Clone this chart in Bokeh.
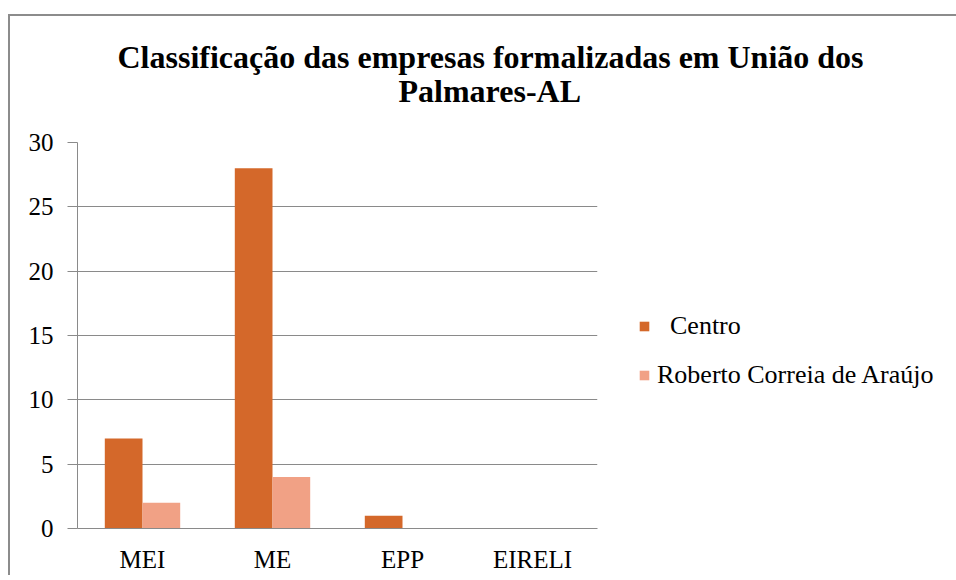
from bokeh.plotting import figure
from bokeh.models import ColumnDataSource, FactorRange, Legend, LegendItem, Title, Range1d
from bokeh.transform import dodge
from bokeh.embed import file_html
from bokeh.resources import INLINE

categories = ["MEI", "ME", "EPP", "EIRELI"]
centro = [7, 28, 1, 0]
roberto = [2, 4, 0, 0]
series_names = ["Centro", "Roberto Correia de Araújo"]
title_lines = ["Classificação das empresas formalizadas em União dos", "Palmares-AL"]
y_ticks = [0, 5, 10, 15, 20, 25, 30]

FONT = "'Liberation Serif'"
GRAY = "#8a8a8a"

source = ColumnDataSource(data=dict(cat=categories, centro=centro, roberto=roberto))

p = figure(x_range=FactorRange(*categories), y_range=Range1d(0, 30),
           frame_width=520, frame_height=386, output_backend="svg", toolbar_location=None,
           min_border_left=67, min_border_right=341, min_border_top=126, min_border_bottom=46)
p.styles = {"border-top": "2px solid #8c8c8c", "border-left": "2px solid #8c8c8c",
            "margin-top": "14px", "margin-left": "8px"}
p.outline_line_color = None
p.background_fill_color = "white"
p.border_fill_color = "white"

r1 = p.vbar(x=dodge("cat", -0.145, range=p.x_range), top="centro", width=0.29,
            source=source, fill_color="#D4682A", line_color=None)
r2 = p.vbar(x=dodge("cat", 0.145, range=p.x_range), top="roberto", width=0.29,
            source=source, fill_color="#F1A185", line_color=None)

p.yaxis.ticker = y_ticks
p.yaxis.axis_line_color = GRAY
p.yaxis.major_tick_line_color = GRAY
p.yaxis.major_tick_out = 10
p.yaxis.major_tick_in = 0
p.yaxis.minor_tick_line_color = None
p.yaxis.major_label_standoff = 14
p.yaxis.major_label_text_font = FONT
p.yaxis.major_label_text_font_size = "25px"
p.yaxis.major_label_text_color = "black"

p.xaxis.axis_line_color = GRAY
p.xaxis.major_tick_line_color = None
p.xaxis.minor_tick_line_color = None
p.xaxis.major_label_standoff = 11
p.xaxis.major_label_text_font = FONT
p.xaxis.major_label_text_font_size = "25px"
p.xaxis.major_label_text_color = "black"

p.xgrid.grid_line_color = None
p.ygrid.grid_line_color = GRAY
p.ygrid.grid_line_width = 1

legend = Legend(items=[LegendItem(label="\u00a0\u00a0" + series_names[0], renderers=[r1]),
                       LegendItem(label=series_names[1], renderers=[r2])],
                location=(41, 138), orientation="vertical")
legend.glyph_width = 12
legend.glyph_height = 12
legend.label_standoff = 7
legend.label_height = 30
legend.spacing = 19
legend.padding = 0
legend.margin = 0
legend.border_line_color = None
legend.background_fill_alpha = 0
legend.label_text_font = FONT
legend.label_text_font_size = "26px"
legend.label_text_color = "black"
p.add_layout(legend, "right")

# spacer between the plot and the title
p.add_layout(Title(text=" ", text_font_size="1px", standoff=31), "above")
# second line first (closest to the plot), then the first line above it
for txt, off, so in [(title_lines[1], 321, 0), (title_lines[0], 40, -8)]:
    p.add_layout(Title(text=txt, align="left", offset=off, text_font=FONT,
                       text_font_size="32px", text_font_style="bold",
                       text_color="black", standoff=so), "above")

open("out.html", "w").write(file_html(p, INLINE))
